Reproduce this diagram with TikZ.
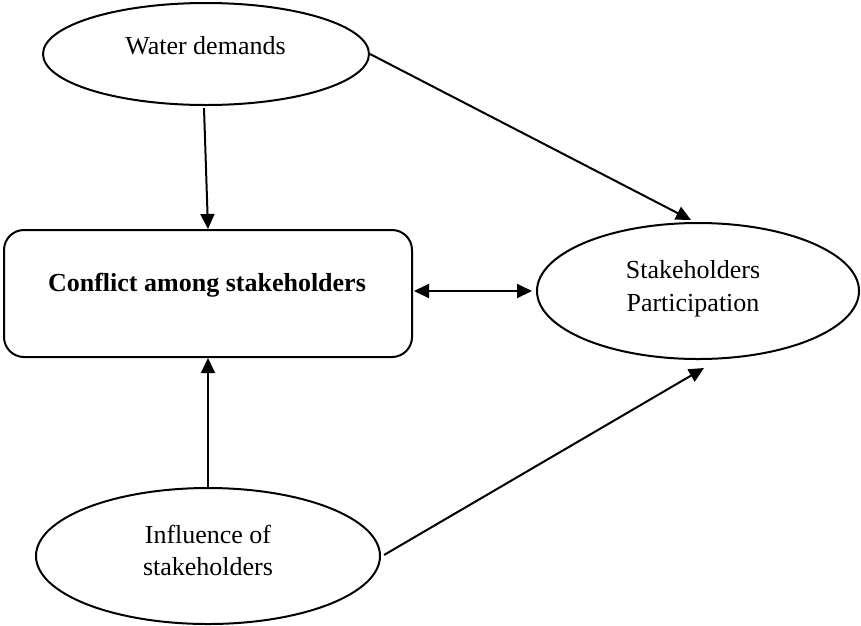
\documentclass[tikz,border=0pt]{standalone}
\usepackage{fontspec}
\setmainfont{Liberation Serif}
\usetikzlibrary{arrows.meta,shapes.geometric,calc}

\tikzset{
  frame/.style={draw=black, line width=2pt, fill=white},
  oval/.style={frame, ellipse, inner sep=0pt},
  roundbox/.style={frame, rectangle, rounded corners=20pt, inner sep=0pt},
  caption/.style={inner sep=0pt, align=center,
    font=\fontsize{26}{32.5}\selectfont},
  tip/.style={Triangle[length=15pt,width=14pt]},
  link/.style={line width=2pt, -{Triangle[length=15pt,width=14pt]}},
  twoway/.style={line width=2pt, {Triangle[length=15pt,width=14pt]}-{Triangle[length=15pt,width=14pt]}}
}

\begin{document}
\begin{tikzpicture}[x=1pt,y=-1pt]
  \useasboundingbox (0,0) rectangle (861,625);

  % shapes
  \node[oval, minimum width=326pt, minimum height=102pt] (wd) at (206,54) {};
  \node[roundbox, minimum width=408pt, minimum height=127pt] (cb) at (208,293.5) {};
  \node[oval, minimum width=322pt, minimum height=136pt] (sp) at (698,291) {};
  \node[oval, minimum width=344pt, minimum height=136pt] (inf) at (208,556) {};

  % texts
  \node[caption, anchor=base] (wdt) at (205.5,54) {Water demands};
  \node[caption, anchor=base] (cbt) at (207,291) {\bfseries Conflict among stakeholders};
  \node[caption] (spt) at (693,288.5) {Stakeholders\\Participation};
  \node[caption] (inft) at (208,550.5) {Influence of\\stakeholders};

  % connectors
  \coordinate (spin) at ($(sp.south)+(6,8)$);
  \coordinate (cbr) at ($(cb.east |- sp.west)+(1,0)$);
  \draw[link] ($(wd.south)+(-2,2)$) -- (cb.north);
  \draw[link] (wd.east) -- ($(sp.north)+(-7,-2)$);
  \draw[twoway] (cbr) -- ($(sp.west)+(-4,0)$);
  \draw[link] (inf.north) -- (cb.south);
  \draw[link] ($(inf.east)+(3,-1)$) -- (spin);
\end{tikzpicture}
\end{document}
